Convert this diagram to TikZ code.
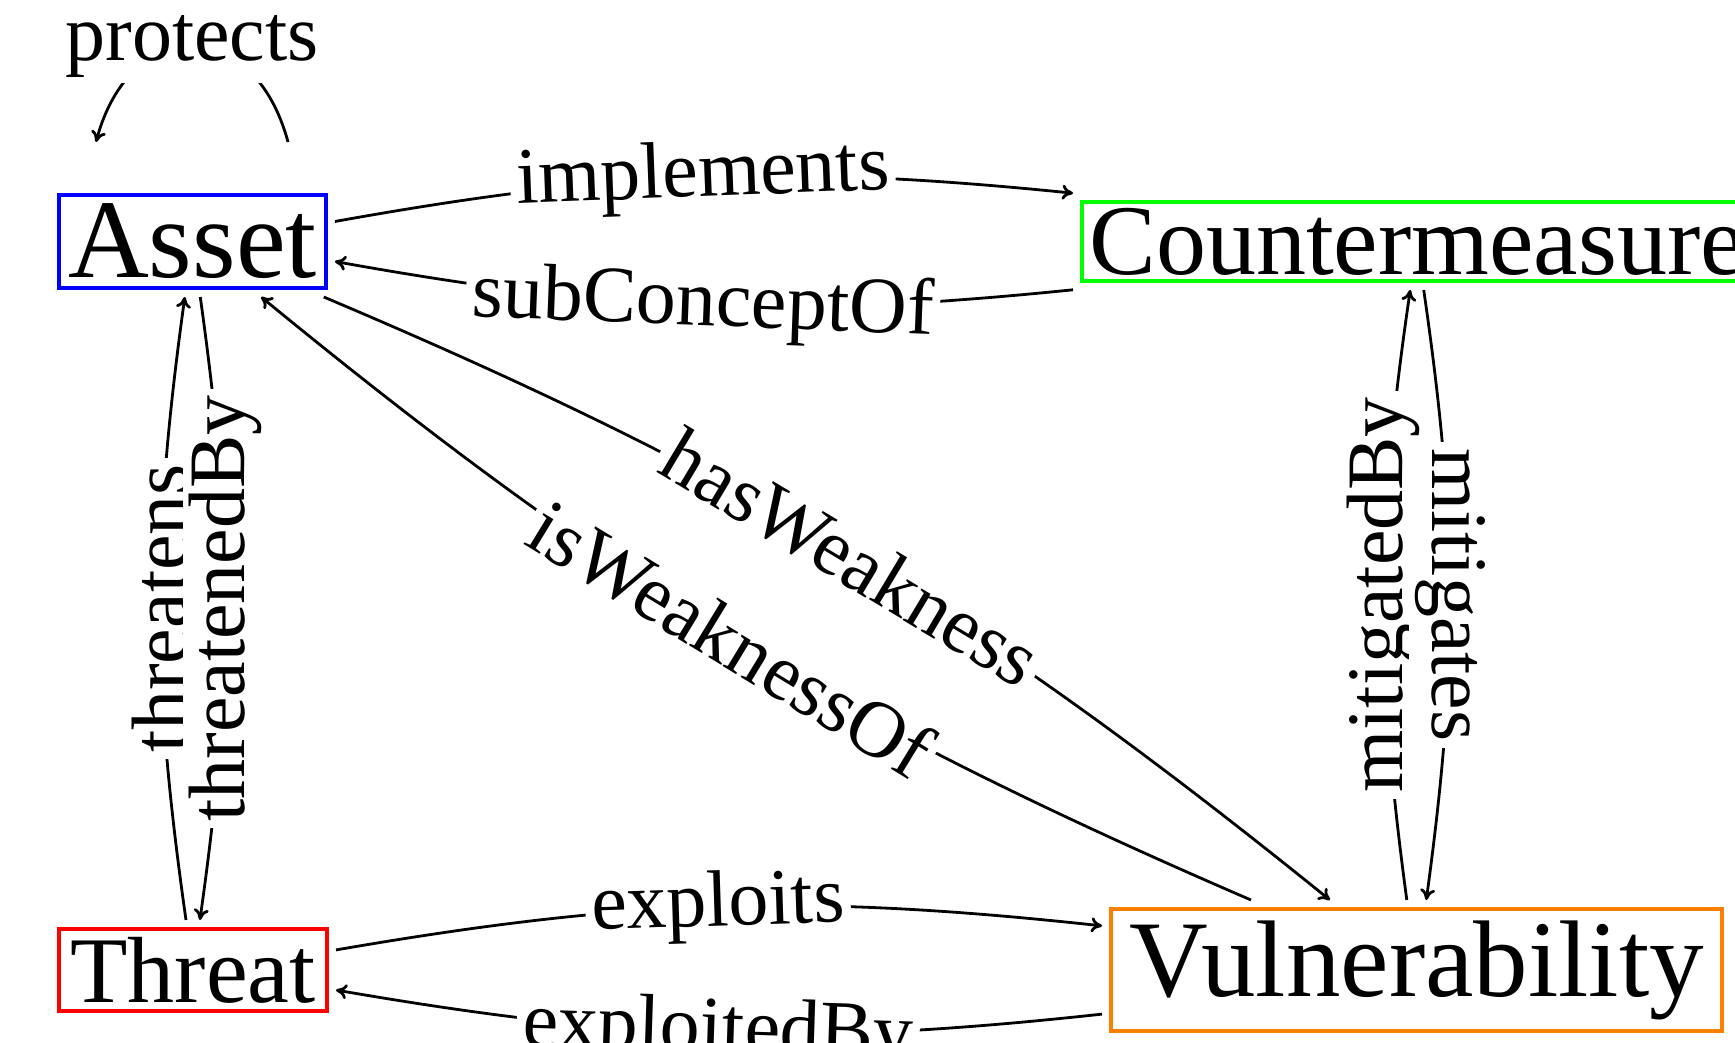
\documentclass[tikz,border=0pt]{standalone}
\usepackage{fontspec}
\setmainfont{Liberation Serif}
\usetikzlibrary{arrows.meta}
\begin{document}
\begin{tikzpicture}[x=1pt,y=1pt,
  concept/.style={draw, line width=4pt, inner sep=0pt, outer sep=9pt},
  rel/.style={-{To[length=11pt,width=15pt]}, line width=2.8pt},
  lbl/.style={fill=white, inner sep=6pt, font=\fontsize{80}{96}\selectfont}]
\useasboundingbox (0,0) rectangle (1735,1043);
\node[concept, draw=blue, minimum width=267pt, minimum height=93pt, font=\fontsize{112}{120}\selectfont] (A) at (192.5,801.5) {Asset};
\node[concept, draw=green, minimum width=670pt, minimum height=79pt, font=\fontsize{100}{110}\selectfont] (C) at (1417,801.5) {Countermeasure};
\node[concept, draw=red, minimum width=268pt, minimum height=82pt, font=\fontsize{94}{104}\selectfont] (T) at (193,73) {Threat};
\node[concept, draw=orange, minimum width=611pt, minimum height=122pt, font=\fontsize{109}{120}\selectfont] (V) at (1416.5,73) {Vulnerability};
\draw[rel] (A) to[bend left=8] node[lbl,sloped]{implements} (C);
\draw[rel] (C) to[bend left=8] node[lbl,sloped]{subConceptOf} (A);
\draw[rel] (T) to[bend left=8] node[lbl,sloped]{exploits} (V);
\draw[rel] (V) to[bend left=8] node[lbl,sloped]{exploitedBy} (T);
\draw[rel] (T) to[bend left=8] node[lbl,rotate=90]{threatens} (A);
\draw[rel] (A) to[bend left=8] node[lbl,rotate=90]{threatenedBy} (T);
\draw[rel] (V) to[bend left=8] node[lbl,rotate=90]{mitigatedBy} (C);
\draw[rel] (C) to[bend left=8] node[lbl,rotate=-90]{mitigates} (V);
\draw[rel] (A) to[bend left=8] node[lbl,sloped]{hasWeakness} (V);
\draw[rel] (V) to[bend left=8] node[lbl,sloped]{isWeaknessOf} (A);
\coordinate (pR) at (288,901);
\coordinate (pL) at (96,901);
\draw[rel] (pR) to[out=105,in=75,distance=132pt] node[lbl]{protects} (pL);
\end{tikzpicture}
\end{document}
